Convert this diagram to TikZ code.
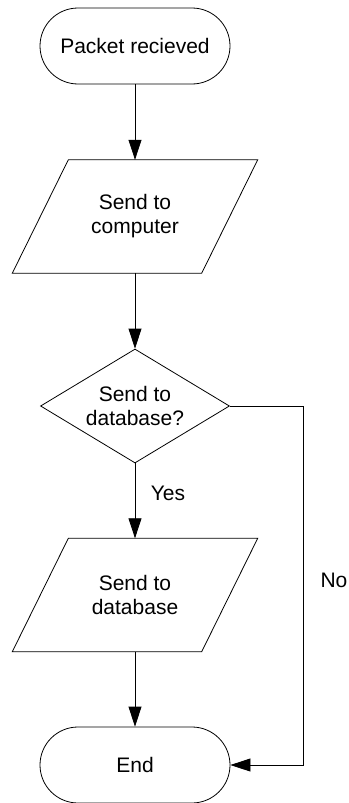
\documentclass[tikz,border=0pt]{standalone}
\usepackage{fontspec}
\setmainfont{Liberation Sans}
\usetikzlibrary{arrows.meta,shapes.geometric}
\begin{document}
\begin{tikzpicture}[x=1pt,y=-1pt,
  every node/.style={font=\fontsize{21pt}{24pt}\selectfont, align=center, text=black},
  terminal/.style={draw, line width=0.8pt, rounded corners=38pt, minimum width=190pt, minimum height=76pt, inner sep=0pt},
  databox/.style={draw=none, minimum width=189pt, minimum height=113pt, inner sep=0pt},
  decision/.style={draw, line width=0.8pt, diamond, aspect=1.66, inner sep=0pt, minimum width=189pt, minimum height=114pt},
  flow/.style={line width=0.8pt, -{Triangle[length=20pt,width=13pt]}},
  plainline/.style={line width=0.8pt}
]
\useasboundingbox (0,0) rectangle (348,803);
\node[terminal] (start) at (135,46) {Packet recieved};
\node[databox] (p1) at (135,216.5) {Send to\\computer};
\node[decision] (d) at (135,406) {Send to\\database?};
\node[databox] (p2) at (135,595) {Send to\\database};
\node[terminal] (end) at (135,765) {End};
\foreach \p in {p1,p2}{
  \draw[plainline] ([xshift=28pt]\p.north west) -- ([xshift=28pt]\p.north east)
    -- ([xshift=-28pt]\p.south east) -- ([xshift=-28pt]\p.south west) -- cycle;
}
\coordinate (nx) at (303,406);
\draw[flow] (start) -- (p1);
\draw[flow] (p1) -- (d);
\draw[flow] (d) -- (p2);
\draw[flow] (p2) -- (end);
\draw[flow] (d.east) -- (nx) |- (end.east);
\node (yes) at (168,493) {Yes};
\node (no) at (334,580) {No};
\end{tikzpicture}
\end{document}
